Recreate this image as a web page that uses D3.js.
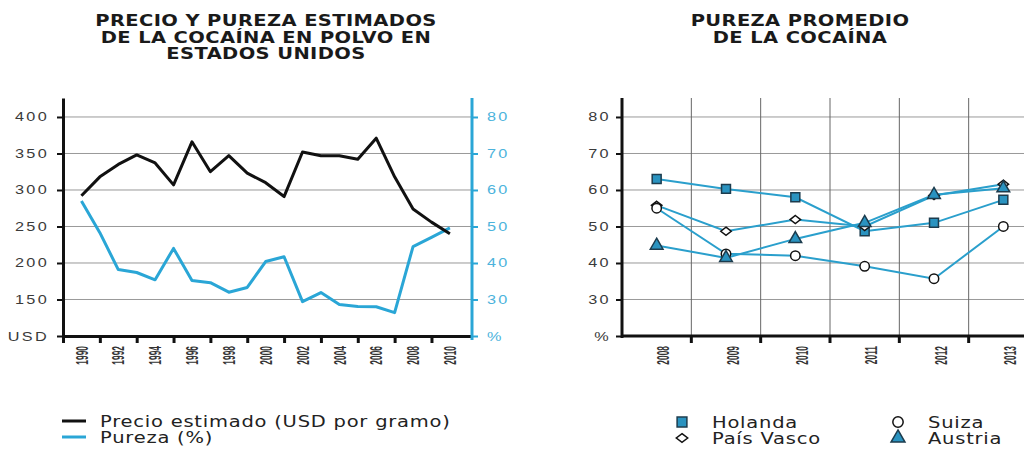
<!DOCTYPE html>
<html lang="es">
<head>
<meta charset="utf-8">
<title>Precio y pureza de la cocaína</title>
<script src="https://cdn.jsdelivr.net/npm/d3@7"></script>
<style>
  html, body { margin: 0; padding: 0; background: #fff; }
  svg { display: block; font-family: "DejaVu Sans", sans-serif; }
</style>
</head>
<body>
<svg id="chart" width="1024" height="452"></svg>
<script>
// Left chart: estimated price (USD per gram) and purity (%) in the US.
const years = [1990, 1991, 1992, 1993, 1994, 1995, 1996, 1997, 1998, 1999, 2000,
  2001, 2002, 2003, 2004, 2005, 2006, 2007, 2008, 2009, 2010];
const precio = [292, 318, 335, 348, 337, 307, 366, 325, 347, 323, 310,
  291, 352, 347, 347, 342, 371, 318, 274, 256, 240];
const pureza = [57, 48.3, 38.2, 37.4, 35.4, 44, 35.2, 34.6, 32, 33.3, 40.4,
  41.7, 29.4, 31.9, 28.6, 28.1, 28, 26.4, 44.5, 47, 49.6];

const precioTicks = [100, 150, 200, 250, 300, 350, 400];
const purezaTicks = [20, 30, 40, 50, 60, 70, 80];
const yearTicks = [1989, 1991, 1993, 1995, 1997, 1999, 2001, 2003, 2005, 2007, 2009];
const yearLabels = [1990, 1992, 1994, 1996, 1998, 2000, 2002, 2004, 2006, 2008, 2010];

// Right chart: average purity by country.
const countryYears = ['2008', '2009', '2010', '2011', '2012', '2013'];
const holanda = [63, 60.3, 58, 48.7, 51, 57.3];
const paisVasco = [55.8, 48.7, 51.9, 50, 58.5, 61.6];
const suiza = [55, 42.5, 42, 39.1, 35.7, 50];
const austria = [44.8, 41.4, 46.6, 51, 58.7, 60.5];

const BLACK = '#111';
const BLUE = '#2aa6d6';
const BLUE_TEXT = '#4cb3dc';
const MARK_BLUE = '#2a93c0';
const MARK_EDGE = '#1c3c4e';
const GRID = '#999';
const LABEL = '#3a3a3a';
const SX = 1.3; // the lettering in the source is wide, stretch it sideways

const svg = d3.select('#chart');

// Diamond a bit wider than tall, as drawn in the source.
const wideDiamond = {
  draw(ctx, size) {
    const h = Math.sqrt(size) / 2;
    ctx.moveTo(0, -h * 0.85);
    ctx.lineTo(h * 1.1, 0);
    ctx.lineTo(0, h * 0.85);
    ctx.lineTo(-h * 1.1, 0);
    ctx.closePath();
  }
};

const markers = {
  square: { type: d3.symbolSquare, size: 80, fill: MARK_BLUE, stroke: MARK_EDGE },
  diamond: { type: wideDiamond, size: 90, fill: '#fff', stroke: BLACK },
  circle: { type: d3.symbolCircle, size: 70, fill: '#fff', stroke: BLACK },
  triangle: { type: d3.symbolTriangle, size: 70, fill: MARK_BLUE, stroke: MARK_EDGE }
};

function stretchedText(g, x, y, txt) {
  return g.append('text')
    .attr('transform', `translate(${x},${y}) scale(${SX},1)`)
    .text(txt);
}

function title(lines, cx) {
  const g = svg.append('g')
    .attr('font-weight', 'bold')
    .attr('font-size', 15)
    .attr('letter-spacing', 0.3)
    .attr('text-anchor', 'middle')
    .attr('fill', '#1a1a1a');
  lines.forEach((l, i) => stretchedText(g, cx, 26 + i * 16.5, l));
}

// Tick label styling shared by the value axes.
function valueLabels(g, dx, anchor, color) {
  g.selectAll('.tick text')
    .attr('x', dx / SX)
    .attr('transform', `scale(${SX},1)`)
    .attr('text-anchor', anchor)
    .attr('font-size', 12.5)
    .attr('letter-spacing', 1.8)
    .attr('fill', color);
}

// Rotated year labels, narrow along the text and wide across it.
function yearLabelsStyle(g, dx) {
  g.selectAll('.tick text')
    .attr('x', 0)
    .attr('y', 0)
    .attr('dy', '0.35em')
    .attr('text-anchor', 'end')
    .attr('font-size', 12)
    .attr('font-weight', 'bold')
    .attr('fill', '#333')
    .attr('transform', `translate(${dx},10) rotate(-90) scale(0.7,1.35)`);
}

const plotTop = 98, plotBottom = 336;

// ---------------- Left chart ----------------
title(['PRECIO Y PUREZA ESTIMADOS', 'DE LA COCAÍNA EN POLVO EN', 'ESTADOS UNIDOS'], 266);

const xL = d3.scaleLinear().domain([1989, 2011.2]).range([63, 472]);
const yPrecio = d3.scaleLinear().domain([100, 426]).range([plotBottom, plotTop]);
const yPureza = d3.scaleLinear().domain([20, 85.2]).range([plotBottom, plotTop]);

const left = svg.append('g').attr('class', 'left-chart');

left.append('g').attr('class', 'grid')
  .selectAll('line')
  .data(precioTicks.slice(1))
  .join('line')
  .attr('x1', xL.range()[0])
  .attr('x2', xL.range()[1])
  .attr('y1', d => yPrecio(d))
  .attr('y2', d => yPrecio(d))
  .attr('stroke', GRID)
  .attr('stroke-width', 1);

const lineL = d3.line().x((d, i) => xL(years[i]));

left.append('path')
  .datum(pureza)
  .attr('d', lineL.y(d => yPureza(d)))
  .attr('fill', 'none')
  .attr('stroke', BLUE)
  .attr('stroke-width', 3)
  .attr('stroke-linejoin', 'round');

left.append('path')
  .datum(precio)
  .attr('d', lineL.y(d => yPrecio(d)))
  .attr('fill', 'none')
  .attr('stroke', BLACK)
  .attr('stroke-width', 3)
  .attr('stroke-linejoin', 'round');

// x axis: ticks on odd years, labels on even years in between
left.append('g')
  .attr('transform', `translate(0,${plotBottom})`)
  .call(d3.axisBottom(xL).tickValues(yearTicks).tickSize(7).tickSizeOuter(0).tickFormat(''))
  .call(g => g.selectAll('line').attr('stroke', BLACK).attr('stroke-width', 3))
  .call(g => g.select('.domain').attr('stroke', BLACK).attr('stroke-width', 3));

left.append('g')
  .attr('transform', `translate(0,${plotBottom})`)
  .call(d3.axisBottom(xL).tickValues(yearLabels).tickSize(0).tickFormat(d3.format('d')))
  .call(g => g.select('.domain').remove())
  .call(g => yearLabelsStyle(g, 0));

left.append('g')
  .attr('transform', `translate(${xL.range()[0]},0)`)
  .call(d3.axisLeft(yPrecio).tickValues(precioTicks).tickSize(6).tickSizeOuter(0)
    .tickFormat(d => d === 100 ? 'USD' : d))
  .call(g => g.selectAll('line').attr('stroke', BLACK).attr('stroke-width', 2))
  .call(g => g.select('.domain').attr('stroke', BLACK).attr('stroke-width', 3))
  .call(g => valueLabels(g, -14, 'end', LABEL));

left.append('g')
  .attr('transform', `translate(${xL.range()[1]},0)`)
  .call(d3.axisRight(yPureza).tickValues(purezaTicks).tickSize(6).tickSizeOuter(0)
    .tickFormat(d => d === 20 ? '%' : d))
  .call(g => g.selectAll('line').attr('stroke', BLUE).attr('stroke-width', 2))
  .call(g => g.select('.domain').attr('stroke', BLUE).attr('stroke-width', 3)
    .attr('d', `M0,${plotTop}V${plotBottom + 4}`))
  .call(g => valueLabels(g, 15, 'start', BLUE_TEXT));

// legend
const legL = svg.append('g').attr('font-size', 15).attr('letter-spacing', 0.6).attr('fill', '#222');
[{ label: 'Precio estimado (USD por gramo)', color: BLACK },
 { label: 'Pureza (%)', color: BLUE }].forEach((d, i) => {
  const y = 421 + i * 16;
  legL.append('line')
    .attr('x1', 62).attr('x2', 86)
    .attr('y1', y).attr('y2', y)
    .attr('stroke', d.color).attr('stroke-width', 3);
  stretchedText(legL, 100, y + 6, d.label);
});

// ---------------- Right chart ----------------
title(['PUREZA PROMEDIO', 'DE LA COCAÍNA'], 800);

const xR = d3.scaleBand().domain(countryYears).range([622, 1038]);
const yR = d3.scaleLinear().domain([20, 85.2]).range([plotBottom, plotTop]);
const cx = d => xR(d) + xR.bandwidth() / 2;

const right = svg.append('g').attr('class', 'right-chart');

right.append('g').attr('class', 'grid')
  .selectAll('line')
  .data(purezaTicks.slice(1))
  .join('line')
  .attr('x1', 622).attr('x2', 1024)
  .attr('y1', d => yR(d)).attr('y2', d => yR(d))
  .attr('stroke', GRID).attr('stroke-width', 1);

right.append('g').attr('class', 'vgrid')
  .selectAll('line')
  .data(countryYears.slice(1))
  .join('line')
  .attr('x1', d => xR(d)).attr('x2', d => xR(d))
  .attr('y1', plotTop).attr('y2', plotBottom)
  .attr('stroke', '#666').attr('stroke-width', 1);

const series = [
  { name: 'Holanda', values: holanda, marker: 'square' },
  { name: 'País Vasco', values: paisVasco, marker: 'diamond' },
  { name: 'Suiza', values: suiza, marker: 'circle' },
  { name: 'Austria', values: austria, marker: 'triangle' }
];

const lineR = d3.line()
  .x((d, i) => cx(countryYears[i]))
  .y(d => yR(d));

right.selectAll('.series-line')
  .data(series)
  .join('path')
  .attr('class', 'series-line')
  .attr('d', d => lineR(d.values))
  .attr('fill', 'none')
  .attr('stroke', '#2a9fcc')
  .attr('stroke-width', 2);

series.forEach(s => {
  const m = markers[s.marker];
  right.append('g')
    .selectAll('path')
    .data(s.values)
    .join('path')
    .attr('transform', (d, i) => `translate(${cx(countryYears[i])},${yR(d)})`)
    .attr('d', d3.symbol(m.type, m.size))
    .attr('fill', m.fill)
    .attr('stroke', m.stroke)
    .attr('stroke-width', 1.5);
});

right.append('g')
  .attr('transform', `translate(0,${plotBottom})`)
  .call(d3.axisBottom(xR).tickSize(0).tickSizeOuter(0))
  .call(g => g.select('.domain').attr('stroke', BLACK).attr('stroke-width', 3)
    .attr('d', 'M622,0H1024'))
  .call(g => yearLabelsStyle(g, 7));

right.append('g')
  .attr('transform', `translate(0,${plotBottom})`)
  .selectAll('line')
  .data(countryYears.slice(1))
  .join('line')
  .attr('x1', d => xR(d)).attr('x2', d => xR(d))
  .attr('y1', 0).attr('y2', 7)
  .attr('stroke', BLACK).attr('stroke-width', 3);

right.append('g')
  .attr('transform', 'translate(622,0)')
  .call(d3.axisLeft(yR).tickValues(purezaTicks).tickSize(6).tickSizeOuter(0)
    .tickFormat(d => d === 20 ? '%' : d))
  .call(g => g.selectAll('line').attr('stroke', BLACK).attr('stroke-width', 2))
  .call(g => g.select('.domain').attr('stroke', BLACK).attr('stroke-width', 3)
    .attr('d', `M0,${plotTop}V${plotBottom + 2}`))
  .call(g => valueLabels(g, -11, 'end', LABEL));

// legend, two columns
const legR = svg.append('g').attr('font-size', 15).attr('letter-spacing', 0.6).attr('fill', '#222');
series.forEach((s, i) => {
  const col = i === 0 || i === 1 ? 0 : 1;
  const row = i === 0 || i === 2 ? 0 : 1;
  const x = col === 0 ? 682 : 898;
  const y = 422 + row * 16;
  const m = markers[s.marker];
  legR.append('path')
    .attr('transform', `translate(${x},${y})`)
    .attr('d', d3.symbol(m.type, m.size * 1.2))
    .attr('fill', m.fill)
    .attr('stroke', m.stroke)
    .attr('stroke-width', 1.5);
  stretchedText(legR, x + 30, y + 6, s.name);
});
</script>
</body>
</html>
